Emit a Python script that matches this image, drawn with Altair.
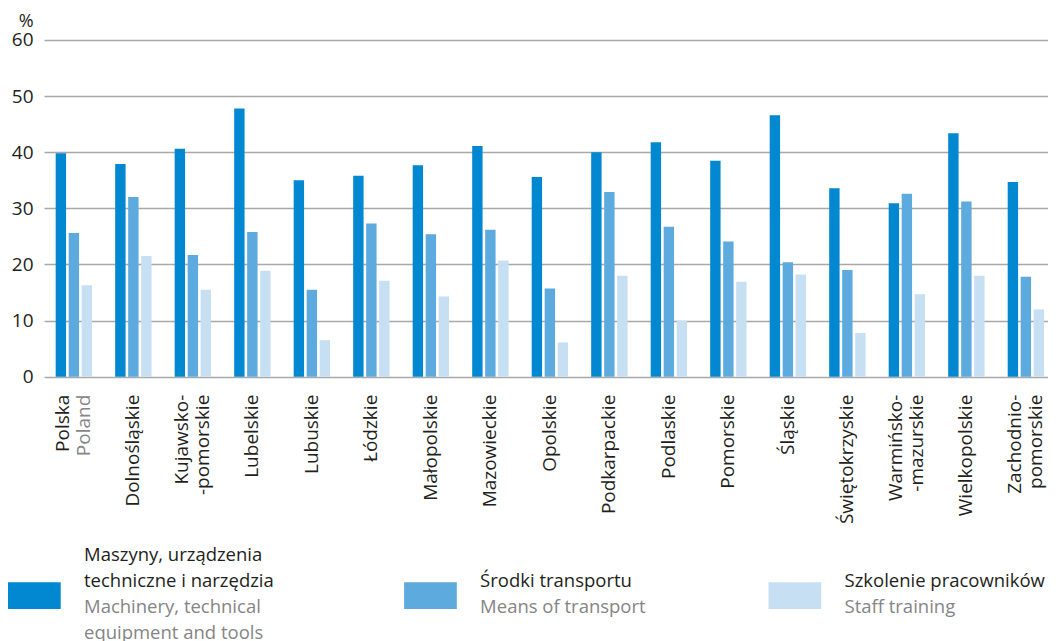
import altair as alt
import pandas as pd

# ---------------- data ----------------
regions = ["Polska", "Dolnośląskie", "Kujawsko-pomorskie", "Lubelskie", "Lubuskie",
           "Łódzkie", "Małopolskie", "Mazowieckie", "Opolskie", "Podkarpackie",
           "Podlaskie", "Pomorskie", "Śląskie", "Świętokrzyskie",
           "Warmińsko-mazurskie", "Wielkopolskie", "Zachodniopomorskie"]
label_line1 = ["Polska", "Dolnośląskie", "Kujawsko-", "Lubelskie", "Lubuskie",
               "Łódzkie", "Małopolskie", "Mazowieckie", "Opolskie", "Podkarpackie",
               "Podlaskie", "Pomorskie", "Śląskie", "Świętokrzyskie",
               "Warmińsko-", "Wielkopolskie", "Zachodnio-"]
label_line2 = ["Poland", "", "-pomorskie", "", "", "", "", "", "", "", "", "", "", "",
               "-mazurskie", "", "pomorskie"]

series = ["Maszyny, urządzenia techniczne i narzędzia", "Środki transportu",
          "Szkolenie pracowników"]
machinery = [39.8, 37.9, 40.6, 47.8, 35.0, 35.8, 37.7, 41.1, 35.6, 40.0, 41.8, 38.5,
             46.6, 33.6, 30.9, 43.4, 34.7]
transport = [25.6, 32.0, 21.7, 25.8, 15.5, 27.3, 25.4, 26.2, 15.7, 32.9, 26.7, 24.1,
             20.4, 19.0, 32.6, 31.2, 17.8]
training = [16.3, 21.5, 15.5, 18.9, 6.5, 17.1, 14.3, 20.7, 6.1, 18.0, 10.0, 16.9,
            18.2, 7.8, 14.7, 18.0, 12.0]

legend_pl = [["Maszyny, urządzenia", "techniczne i narzędzia"], ["Środki transportu"],
             ["Szkolenie pracowników"]]
legend_en = [["Machinery, technical", "equipment and tools"], ["Means of transport"],
             ["Staff training"]]

y_ticks = [0, 10, 20, 30, 40, 50, 60]

# ---------------- styles ----------------
colors = ["#0288D1", "#5DAADE", "#C7DFF3"]
FONT = "Open Sans"
DARK = "#231F20"
GRAY = "#858585"
W, H = 1003.5, 336.7

# ---------------- tables ----------------
rows = []
for s, vals in zip(series, [machinery, transport, training]):
    for r, v in zip(regions, vals):
        rows.append({"region": r, "series": s, "value": v})
bars_df = pd.DataFrame(rows)

labels_df = pd.DataFrame({"region": regions, "line1": label_line1, "line2": label_line2})

leg_rows = []
for k, (s, pl, en) in enumerate(zip(series, legend_pl, legend_en)):
    for i, t in enumerate(pl):
        leg_rows.append({"idx": k, "series": s, "line": 2 - len(pl) + i, "text": t, "lang": "pl"})
    for i, t in enumerate(en):
        leg_rows.append({"idx": k, "series": s, "line": 2 + i, "text": t, "lang": "en"})
legend_df = pd.DataFrame(leg_rows)
legend_sq = pd.DataFrame({"idx": list(range(len(series))), "series": series})

# ---------------- main chart ----------------
x_enc = alt.X("region:N", sort=regions, axis=None,
              scale=alt.Scale(paddingInner=0.345, paddingOuter=0.105, align=0.83))
color_enc = alt.Color("series:N", scale=alt.Scale(domain=series, range=colors), legend=None)

bars = alt.Chart(bars_df).mark_bar().encode(
    x=x_enc,
    xOffset=alt.XOffset("series:N", sort=series,
                        scale=alt.Scale(paddingInner=0.2, paddingOuter=0.1)),
    y=alt.Y("value:Q", scale=alt.Scale(domain=[0, 60], nice=False),
            axis=alt.Axis(values=y_ticks, grid=True, gridColor="#A9A9A9", gridWidth=1.3,
                          domain=False, ticks=False, labelFont=FONT, labelFontSize=19,
                          labelColor=DARK, labelPadding=11, title="%", titleAngle=0,
                          titleAlign="right", titleBaseline="alphabetic", titleX=-11,
                          titleY=-13.5, titleFont=FONT, titleFontSize=18,
                          titleFontWeight="normal", titleColor=DARK)),
    color=color_enc,
)


def label_layer(filter_expr, field, dy, color):
    return alt.Chart(labels_df).transform_filter(filter_expr).mark_text(
        angle=270, align="right", baseline="middle", font=FONT, fontSize=19, dy=dy
    ).encode(x=x_enc, y=alt.value(H + 18), text=f"{field}:N", color=color)


t_single = label_layer("datum.line2 == ''", "line1", 0, alt.value(DARK))
t_first = label_layer("datum.line2 != ''", "line1", -10.5, alt.value(DARK))
t_second = label_layer("datum.line2 != ''", "line2", 10.5,
                       alt.condition("datum.region == 'Polska'", alt.value(GRAY), alt.value(DARK)))

main = alt.layer(bars, t_single, t_first, t_second)

# ---------------- legend ----------------
leg_x = alt.X("idx:Q", axis=None,
              scale=alt.Scale(type="pow", exponent=0.941, domain=[0, 2], range=[-36, 724.5]))

leg_rect = alt.Chart(legend_sq).mark_rect(x2Offset=52.7).encode(
    x=leg_x, x2="idx:Q", y=alt.value(542.3), y2=alt.value(569), color=color_enc
)
leg_text = alt.Chart(legend_df).mark_text(
    align="left", baseline="alphabetic", font=FONT, fontSize=18.5, dx=76
).encode(
    x=leg_x,
    y=alt.Y("line:Q", scale=alt.Scale(domain=[0, 3], range=[520.7, 598.7]), axis=None),
    text="text:N",
    color=alt.condition("datum.lang == 'pl'", alt.value(DARK), alt.value(GRAY)),
)
legend = alt.layer(leg_rect, leg_text)

chart = alt.layer(main, legend).resolve_scale(x="independent", y="independent").properties(
    width=W, height=H, padding={"left": 0, "top": 4, "right": 0, "bottom": 0}
).configure_view(stroke=None)

chart.save("out.html", embed_options={"renderer": "svg", "actions": False})
